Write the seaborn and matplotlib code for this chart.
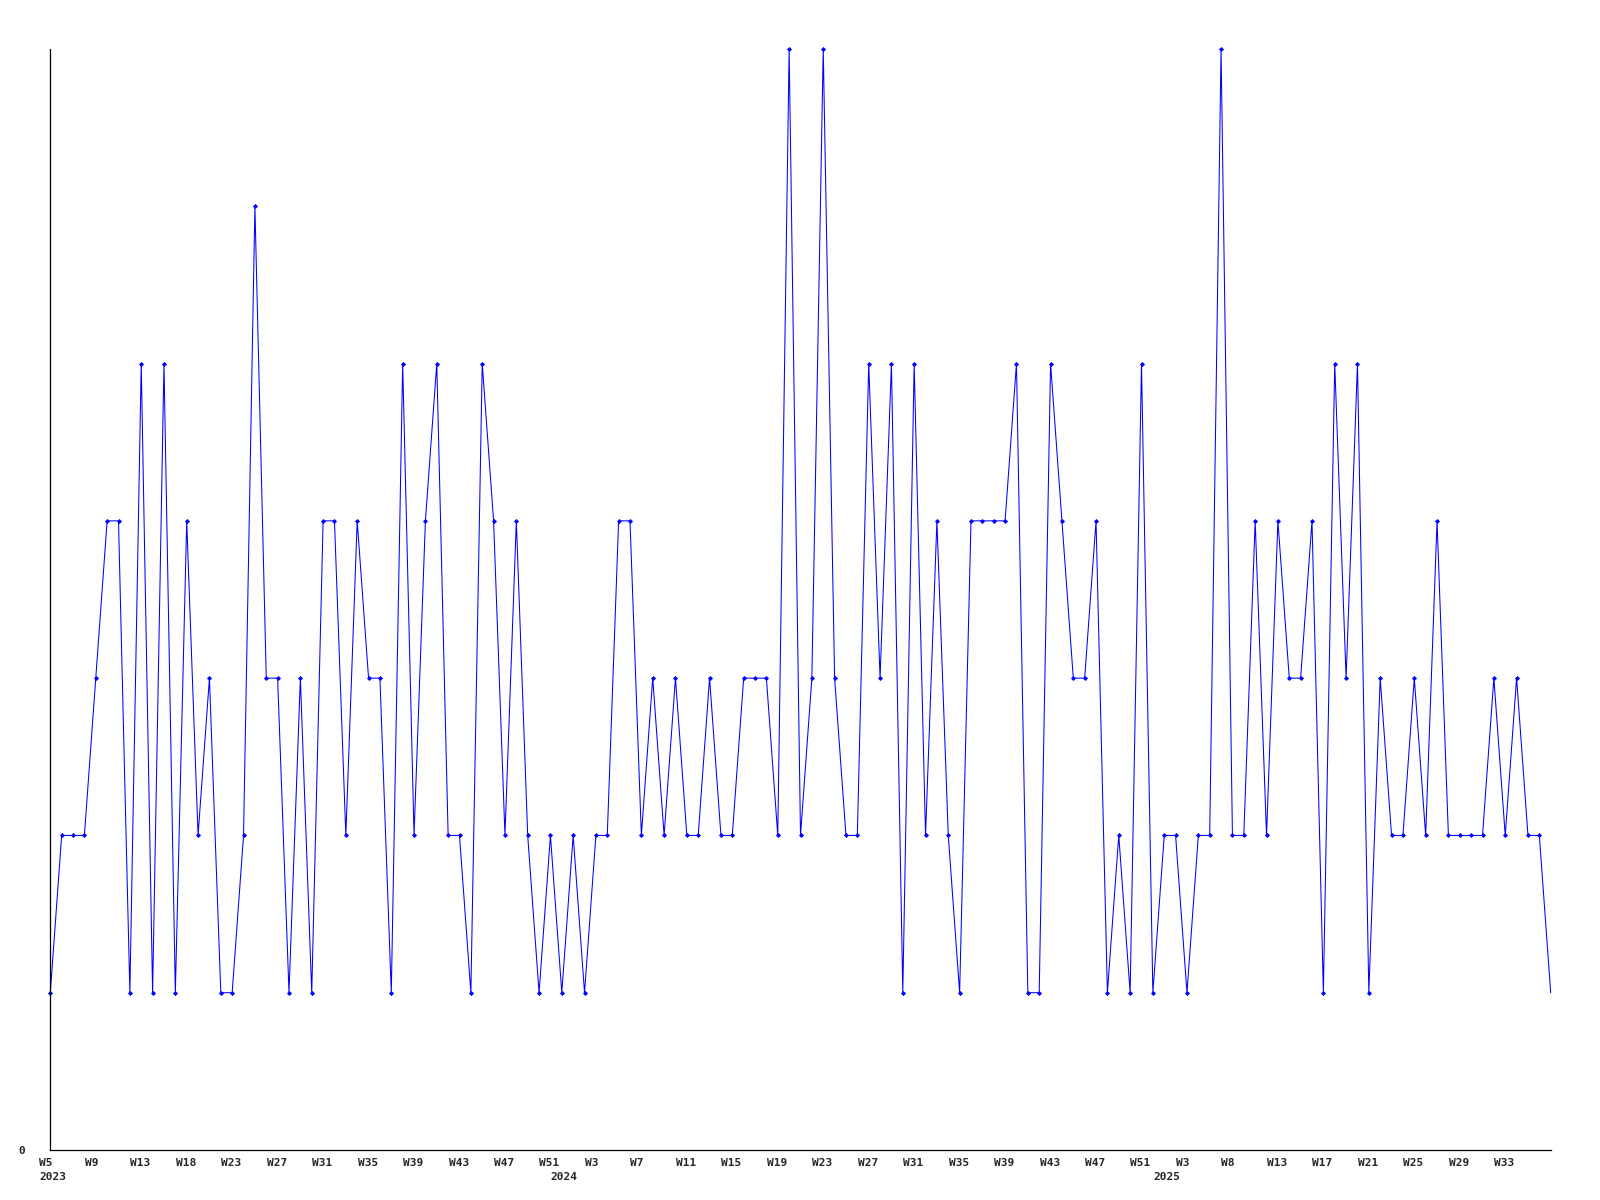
import matplotlib
matplotlib.use('Agg')
import matplotlib.pyplot as plt
import seaborn as sns
import pandas as pd
from matplotlib.transforms import ScaledTranslation

# weekly counts, 2023 W5 onwards
counts = [1, 2, 2, 2, 3, 4, 4, 1, 5, 1,
          5, 1, 4, 2, 3, 1, 1, 2, 6, 3,
          3, 1, 3, 1, 4, 4, 2, 4, 3, 3,
          1, 5, 2, 4, 5, 2, 2, 1, 5, 4,
          2, 4, 2, 1, 2, 1, 2, 1, 2, 2,
          4, 4, 2, 3, 2, 3, 2, 2, 3, 2,
          2, 3, 3, 3, 2, 7, 2, 3, 7, 3,
          2, 2, 5, 3, 5, 1, 5, 2, 4, 2,
          1, 4, 4, 4, 4, 5, 1, 1, 5, 4,
          3, 3, 4, 1, 2, 1, 5, 1, 2, 2,
          1, 2, 2, 7, 2, 2, 4, 2, 4, 3,
          3, 4, 1, 5, 3, 5, 1, 3, 2, 2,
          3, 2, 4, 2, 2, 2, 2, 3, 2, 3,
          2, 2, 1]

# a label on every 4th week
week_labels = ["W5", "W9", "W13", "W18", "W23", "W27", "W31", "W35", "W39", "W43",
               "W47", "W51", "W3", "W7", "W11", "W15", "W19", "W23", "W27", "W31",
               "W35", "W39", "W43", "W47", "W51", "W3", "W8", "W13", "W17", "W21",
               "W25", "W29", "W33"]

years = ["2023", "2024", "2025"]
year_start = [0, 45, 98]

df = pd.DataFrame({'idx': range(len(counts)), 'count': counts})

sns.set_style('white')
plt.rcParams['font.family'] = ['DejaVu Sans Mono']
plt.rcParams['font.weight'] = 'bold'

fig = plt.figure(figsize=(16, 12), dpi=100)
ax = fig.add_axes([50.3 / 1600, 1 - 1150 / 1200, 1500.4 / 1600, 1101 / 1200])

# last point has no marker in the original
sns.lineplot(x='idx', y='count', data=df, ax=ax, color='#0000ff', linewidth=0.75,
             marker='D', markersize=2.6, markeredgewidth=0, markerfacecolor='#0000ff',
             markevery=list(range(len(counts) - 1)), clip_on=False)

ax.set_xlim(0, len(counts) - 1)
ax.set_ylim(0, 7)
ax.set_xlabel('')
ax.set_ylabel('')

ax.set_xticks(range(0, 4 * len(week_labels), 4), week_labels)
ax.set_yticks([0], ['0'])
ax.tick_params(axis='x', length=0, pad=6, labelsize=8)
ax.tick_params(axis='y', length=0, pad=18, labelsize=8)

shift = ScaledTranslation(-11 / 100, 0, fig.dpi_scale_trans)
for lab in ax.get_xticklabels():
    lab.set_horizontalalignment('left')
    lab.set_transform(lab.get_transform() + shift)

for yr, pos in zip(years, year_start):
    ax.annotate(yr, xy=(pos, 0), xycoords=('data', 'axes fraction'),
                xytext=(-11, -22), textcoords='offset pixels',
                ha='left', va='top', fontsize=8, fontweight='bold')

for side in ['top', 'right']:
    ax.spines[side].set_visible(False)
for side in ['left', 'bottom']:
    ax.spines[side].set_color('black')
    ax.spines[side].set_linewidth(0.9)

fig.savefig('out.png', dpi=100)
